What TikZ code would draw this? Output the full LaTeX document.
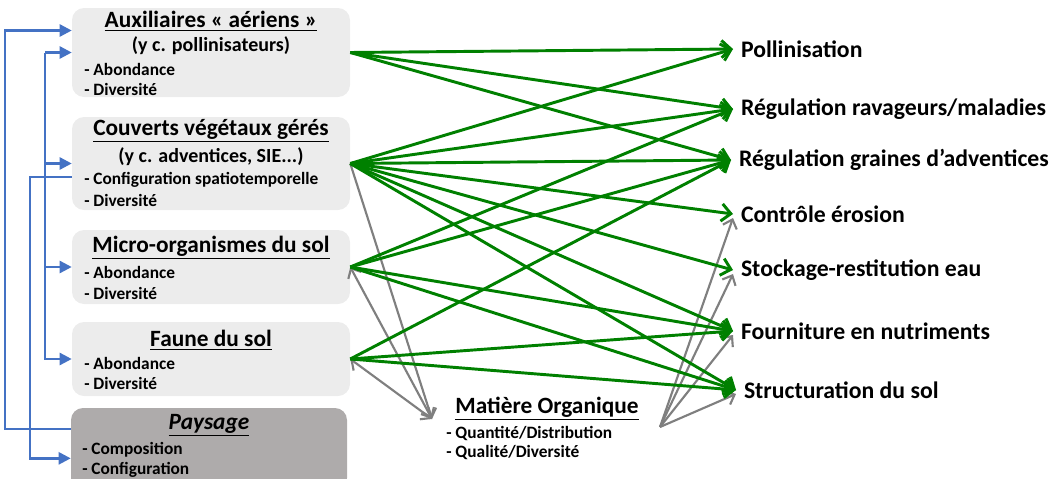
\documentclass[tikz,border=0pt]{standalone}
\usepackage{fontspec}
\setmainfont{Carlito}
\usetikzlibrary{arrows.meta}
\usetikzlibrary{positioning}

\definecolor{vertfl}{HTML}{008000}
\definecolor{grisfl}{HTML}{7F7F7F}
\definecolor{bleufl}{HTML}{4472C4}
\definecolor{grisclair}{HTML}{ECECEC}
\definecolor{grisfonce}{HTML}{AEABAB}

\tikzset{
  boite/.style={rounded corners=9pt,draw=none,fill=grisclair,minimum width=208.5pt},
  titre/.style={font=\fontsize{17.5}{20}\selectfont\bfseries,inner sep=0pt},
  soustitre/.style={font=\fontsize{15}{17}\selectfont\bfseries,inner sep=0pt},
  item/.style={font=\fontsize{13}{15}\selectfont\bfseries,inner sep=0pt,anchor=west},
  service/.style={font=\fontsize{17.8}{20}\selectfont\bfseries,inner sep=0pt,outer xsep=6pt,anchor=west},
  vfleche/.style={vertfl,line width=2.2pt,-{Straight Barb[length=7pt,width=13pt,line width=2.2pt]}},
  gfleche/.style={grisfl,line width=1.6pt,-{Straight Barb[length=6pt,width=11pt,line width=1.6pt]}},
  gfleches/.style={gfleche,{Straight Barb[length=6pt,width=11pt,line width=1.6pt]}-{Straight Barb[length=6pt,width=11pt,line width=1.6pt]}},
  bus/.style={bleufl,line width=1.8pt},
  busfl/.style={bus,-{Triangle[length=9pt,width=9pt]}}
}

\begin{document}
\begin{tikzpicture}[x=0.75pt,y=-0.75pt]
\useasboundingbox (0,0) rectangle (1051,479);

% boites de gauche
\node[boite,minimum height=66.75pt] (aux) at (211,52.5) {};
\node[boite,minimum height=69.75pt] (couv) at (211,163.5) {};
\node[boite,minimum height=55.5pt] (micro) at (211,267) {};
\node[boite,minimum height=55.5pt] (faune) at (211,359) {};
\node[boite,fill=grisfonce,minimum width=207pt,minimum height=61.5pt] (pay) at (209,449) {};

\node[titre] (auxT) at (211,21) {\underline{Auxiliaires « aériens »}};
\node[soustitre] (auxS) at (211,46) {(y c. pollinisateurs)};
\node[item] (auxA) at (84,69) {- Abondance};
\node[item] (auxD) at (84,89) {- Diversité};

\node[titre] (couvT) at (211,131) {\underline{Couverts végétaux gérés}};
\node[soustitre] (couvS) at (211,157) {(y c. adventices, SIE...)};
\node[item] (couvC) at (84,180) {- Configuration spatiotemporelle};
\node[item] (couvD) at (84,200) {- Diversité};

\node[titre] (microT) at (211,248) {\underline{Micro-organismes du sol}};
\node[item] (microA) at (84,272) {- Abondance};
\node[item] (microD) at (84,293) {- Diversité};

\node[titre] (fauneT) at (211,340) {\underline{Faune du sol}};
\node[item] (fauneA) at (84,363) {- Abondance};
\node[item] (fauneD) at (84,383) {- Diversité};

\node[titre] (payT) at (209,425) {\underline{\itshape Paysage}};
\node[item] (payC) at (82,450) {- Composition};
\node[item] (payG) at (82,470) {- Configuration};

% matiere organique
\node[titre] (moT) at (547,409) {\underline{Matière Organique}};
\node[item] (moQ) at (446,433) {- Quantité/Distribution};
\node[item] (moD) at (446,453) {- Qualité/Diversité};
\coordinate (moL) at (432,419);
\coordinate (moR) at (660,427);

% services
\node[service] (pol) at (733,49) {Pollinisation};
\node[service] (rav) at (733,109) {Régulation ravageurs/maladies};
\node[service] (gra) at (731,160) {Régulation graines d’adventices};
\node[service] (ero) at (733,214) {Contrôle érosion};
\node[service] (sto) at (733,270) {Stockage-restitution eau};
\node[service] (fou) at (733,331) {Fourniture en nutriments};
\node[service] (str) at (736,390) {Structuration du sol};

% fleches bleues
\draw[busfl] ([yshift=15pt]pay.west) -- ++(-49.5pt,0) |- ([yshift=16.5pt]aux.west);
\draw[busfl] ([yshift=-10pt]couv.west) -- ++(-31.5pt,0) |- ([yshift=-7pt]pay.west);
\coordinate (bus) at (45,52.5);
\draw[busfl] (bus) -- (aux.west);
\draw[busfl] (bus) |- (couv.west);
\draw[busfl] (bus) |- (micro.west);
\draw[busfl] (bus) |- (faune.west);

% fleches grises
\draw[gfleche] (couv.east) -- (moL);
\draw[gfleches] (micro.east) -- (moL);
\draw[gfleches] (faune.east) -- (moL);
\foreach \s in {ero,sto,fou,str}
  \draw[gfleche] (moR) -- ([yshift=-3pt]\s.west);

% fleches vertes
\foreach \s in {pol,rav,gra}
  \draw[vfleche] (aux.east) -- (\s.west);
\foreach \s in {pol,rav,gra,ero,sto,fou,str}
  \draw[vfleche] (couv.east) -- (\s.west);
\foreach \s in {rav,gra,fou,str}
  \draw[vfleche] (micro.east) -- (\s.west);
\foreach \s in {gra,fou,str}
  \draw[vfleche] (faune.east) -- (\s.west);
\end{tikzpicture}
\end{document}
